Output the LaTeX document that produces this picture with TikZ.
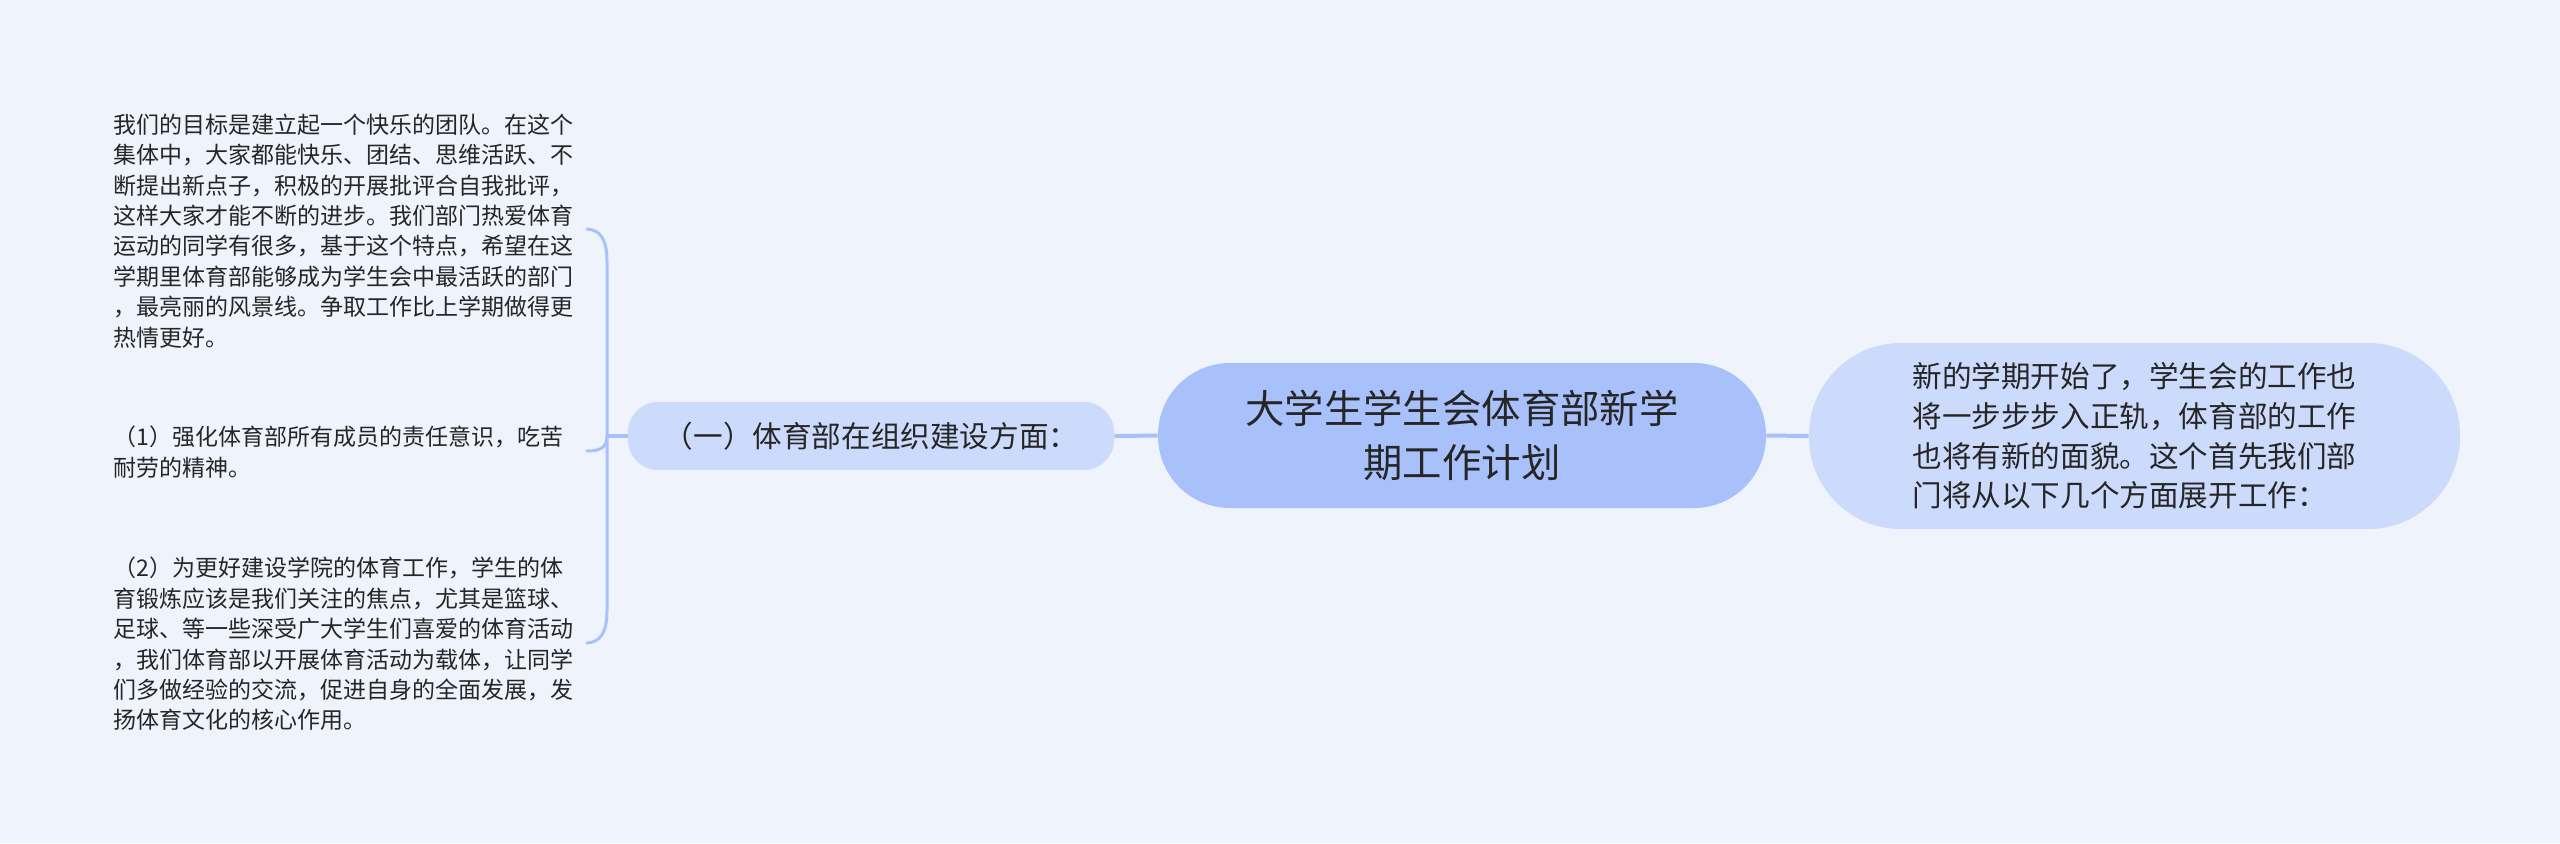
\documentclass[tikz,border=0pt]{standalone}
\usepackage{fontspec}
\newfontfamily\cjk{Noto Sans CJK SC}
\definecolor{bgc}{HTML}{EEF3FC}
\definecolor{mainfill}{HTML}{A8C1FB}
\definecolor{subfill}{HTML}{CCDBFB}
\definecolor{linec}{HTML}{A9C1FA}
\definecolor{txt}{HTML}{262626}
\tikzset{
  mainbox/.style={fill=mainfill, rounded corners=36pt, minimum width=304pt, minimum height=72.5pt,
    inner sep=0pt, align=center, text=txt, font=\cjk\fontsize{19.7}{27}\selectfont},
  introbox/.style={fill=subfill, rounded corners=46pt, minimum width=325.5pt, minimum height=93pt,
    inner sep=0pt, align=left, text=txt, font=\cjk\fontsize{14.8}{19.85}\selectfont},
  branchbox/.style={fill=subfill, rounded corners=15pt, minimum width=243pt, minimum height=34pt,
    inner sep=0pt, align=center, text=txt, font=\cjk\fontsize{14.8}{18}\selectfont},
  leaftext/.style={inner sep=0pt, anchor=west, align=left, text=txt, font=\cjk\fontsize{11.5}{15.2}\selectfont},
  link/.style={draw=linec, line width=2pt},
  brace/.style={draw=linec, line width=1.5pt, line cap=round},
}
\begin{document}
\begin{tikzpicture}[x=0.5pt,y=-0.5pt]
\fill[bgc] (0,0) rectangle (2560,843);
\useasboundingbox (0,0) rectangle (2560,843);

\node[mainbox] (title) at (1462,435.5) {大学生学生会体育部新学\\期工作计划};
\node[introbox] (intro) at (2134.5,436) {新的学期开始了，学生会的工作也\\将一步步步入正轨，体育部的工作\\也将有新的面貌。这个首先我们部\\门将从以下几个方面展开工作：};
\node[branchbox] (branch) at (871,436) {（一）体育部在组织建设方面：};

\node[leaftext] (t1) at (113,231) {我们的目标是建立起一个快乐的团队。在这个\\集体中，大家都能快乐、团结、思维活跃、不\\断提出新点子，积极的开展批评合自我批评，\\这样大家才能不断的进步。我们部门热爱体育\\运动的同学有很多，基于这个特点，希望在这\\学期里体育部能够成为学生会中最活跃的部门\\，最亮丽的风景线。争取工作比上学期做得更\\热情更好。};
\node[leaftext] (t2) at (113,452) {（1）强化体育部所有成员的责任意识，吃苦\\耐劳的精神。};
\node[leaftext] (t3) at (113,644) {（2）为更好建设学院的体育工作，学生的体\\育锻炼应该是我们关注的焦点，尤其是篮球、\\足球、等一些深受广大学生们喜爱的体育活动\\，我们体育部以开展体育活动为载体，让同学\\们多做经验的交流，促进自身的全面发展，发\\扬体育文化的核心作用。};

\coordinate (j) at (607,436);
\coordinate (e1) at (587,229);
\coordinate (e2) at (587,451);
\coordinate (e3) at (587,643);

\draw[link] (title.east) -- (intro.west);
\draw[link] (title.west) -- (branch.east);
\draw[link] (branch.west) -- (j);
\draw[brace] (j) -- (607,262) .. controls (607,240) and (601,230) .. (e1);
\draw[brace] (j) .. controls (607,447) and (601,451) .. (e2);
\draw[brace] (j) -- (607,610) .. controls (607,632) and (601,642) .. (e3);
\end{tikzpicture}
\end{document}
